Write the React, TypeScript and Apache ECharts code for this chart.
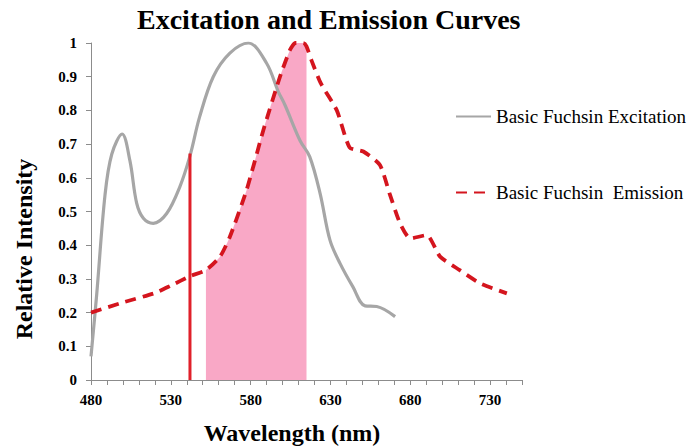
import React, { useEffect, useRef } from "react";
import * as echarts from "echarts";

const TITLE = "Excitation and Emission Curves";
const X_NAME = "Wavelength (nm)";
const Y_NAME = "Relative Intensity";
const EXC_NAME = "Basic Fuchsin Excitation";
const EMI_NAME = "Basic Fuchsin  Emission";

// Excitation curve [wavelength, intensity]
const excWavelengths = [480, 483.5, 488.8, 493, 499.5, 504.4, 508.6, 512.8, 519, 527.4, 535.7, 542, 548, 556.6, 567, 578.6, 590, 597.3, 601.5, 611, 617, 623.5, 629.7, 636, 644, 651.7, 659, 670.5];
const excValues = [0.07, 0.25, 0.55, 0.67, 0.73, 0.65, 0.525, 0.48, 0.465, 0.494, 0.574, 0.665, 0.78, 0.9, 0.97, 1.0, 0.94, 0.856, 0.816, 0.71, 0.663, 0.554, 0.415, 0.346, 0.277, 0.22, 0.218, 0.188];

// Emission curve [wavelength, intensity]
const emiWavelengths = [480, 500, 520, 530, 542, 552, 560.8, 567, 577.5, 588, 598.4, 604.7, 608, 613, 615, 618, 624, 634, 642, 650.6, 661, 667, 673.6, 680, 690.3, 698.7, 711, 723.7, 740.5];
const emiValues = [0.2, 0.23, 0.258, 0.28, 0.308, 0.326, 0.366, 0.425, 0.564, 0.742, 0.9, 0.98, 1.0, 1.0, 0.99, 0.95, 0.88, 0.8, 0.69, 0.678, 0.638, 0.554, 0.465, 0.42, 0.43, 0.366, 0.326, 0.287, 0.257];

// Shaded emission band (filter window)
const bandStart = 552;
const bandEnd = 615;

// Excitation laser line
const laserWavelength = 542;
const laserTop = 0.672;

const xMin = 480;
const xMax = 750;
const xLabelStep = 50;
const xLastLabel = 730;
const xTickStep = 10;
const yMin = 0;
const yMax = 1;
const yStep = 0.1;

const SERIF = "Liberation Serif";

export default function App() {
  const ref = useRef<HTMLDivElement>(null);
  useEffect(() => {
    if (!ref.current) return;
    const chart = echarts.init(ref.current, undefined, { renderer: "svg" });
    const exc = excWavelengths.map((w, i) => [w, excValues[i]]);
    const emi = emiWavelengths.map((w, i) => [w, emiValues[i]]);
    const band = emi.filter((p) => p[0] >= bandStart && p[0] <= bandEnd);
    const laser = [[laserWavelength, 0], [laserWavelength, laserTop]];

    chart.setOption({
      animation: false,
      backgroundColor: "#ffffff",
      textStyle: { fontFamily: SERIF },
      title: {
        text: TITLE,
        left: 132,
        top: 0,
        textStyle: { fontFamily: SERIF, fontWeight: "bold", fontSize: 28, color: "#000" },
      },
      legend: {
        data: [EXC_NAME, EMI_NAME],
        orient: "vertical",
        left: 455,
        top: 107,
        padding: 0,
        itemWidth: 35,
        itemHeight: 14,
        itemGap: 57,
        itemStyle: { opacity: 0 },
        textStyle: { fontFamily: SERIF, fontSize: 19, color: "#000" },
      },
      grid: { left: 91, right: 176, top: 43, bottom: 68 },
      xAxis: {
        type: "value",
        min: xMin,
        max: xMax,
        interval: xTickStep,
        axisLine: { lineStyle: { color: "#8c8c8c", width: 1 } },
        axisTick: { show: true, length: 5, lineStyle: { color: "#8c8c8c" } },
        splitLine: { show: false },
        axisLabel: {
          interval: 0,
          margin: 12,
          fontFamily: SERIF,
          fontWeight: "bold",
          fontSize: 15,
          color: "#000",
          formatter: (v: number) => ((v - xMin) % xLabelStep === 0 && v <= xLastLabel ? String(v) : ""),
        },
      },
      yAxis: {
        type: "value",
        min: yMin,
        max: yMax,
        interval: yStep,
        axisLine: { show: true, lineStyle: { color: "#8c8c8c", width: 1 } },
        axisTick: { show: true, length: 5, lineStyle: { color: "#8c8c8c" } },
        splitLine: { show: false },
        axisLabel: {
          margin: 14,
          fontFamily: SERIF,
          fontWeight: "bold",
          fontSize: 15,
          color: "#000",
          formatter: (v: number) => String(Math.round(v * 10) / 10),
        },
      },
      graphic: [
        {
          type: "text",
          x: 24,
          y: 249,
          rotation: Math.PI / 2,
          style: {
            text: Y_NAME,
            fontFamily: SERIF,
            fontWeight: "bold",
            fontSize: 24,
            fill: "#000",
            textAlign: "center",
            textVerticalAlign: "middle",
          },
        },
        {
          type: "text",
          x: 292,
          y: 433,
          style: {
            text: X_NAME,
            fontFamily: SERIF,
            fontWeight: "bold",
            fontSize: 24,
            fill: "#000",
            textAlign: "center",
            textVerticalAlign: "middle",
          },
        },
      ],
      series: [
        {
          name: "band",
          type: "line",
          data: band,
          smooth: 0.2,
          symbol: "none",
          lineStyle: { width: 0, opacity: 0 },
          areaStyle: { color: "#F9A8C6", opacity: 1 },
          z: 1,
          silent: true,
        },
        {
          name: EXC_NAME,
          type: "line",
          data: exc,
          smooth: 0.35,
          symbol: "none",
          lineStyle: { color: "#A6A6A6", width: 3.2 },
          itemStyle: { color: "#A6A6A6" },
          z: 3,
        },
        {
          name: EMI_NAME,
          type: "line",
          data: emi,
          smooth: 0.2,
          symbol: "none",
          lineStyle: { color: "#D4151E", width: 3.8, type: [11, 7] },
          itemStyle: { color: "#D4151E" },
          z: 4,
        },
        {
          name: "laser",
          type: "line",
          data: laser,
          symbol: "none",
          lineStyle: { color: "#E0202A", width: 3 },
          z: 5,
          silent: true,
        },
      ],
    });
    return () => chart.dispose();
  }, []);
  return <div ref={ref} style={{ position: "absolute", left: 0, top: 0, width: 698, height: 448 }} />;
}
